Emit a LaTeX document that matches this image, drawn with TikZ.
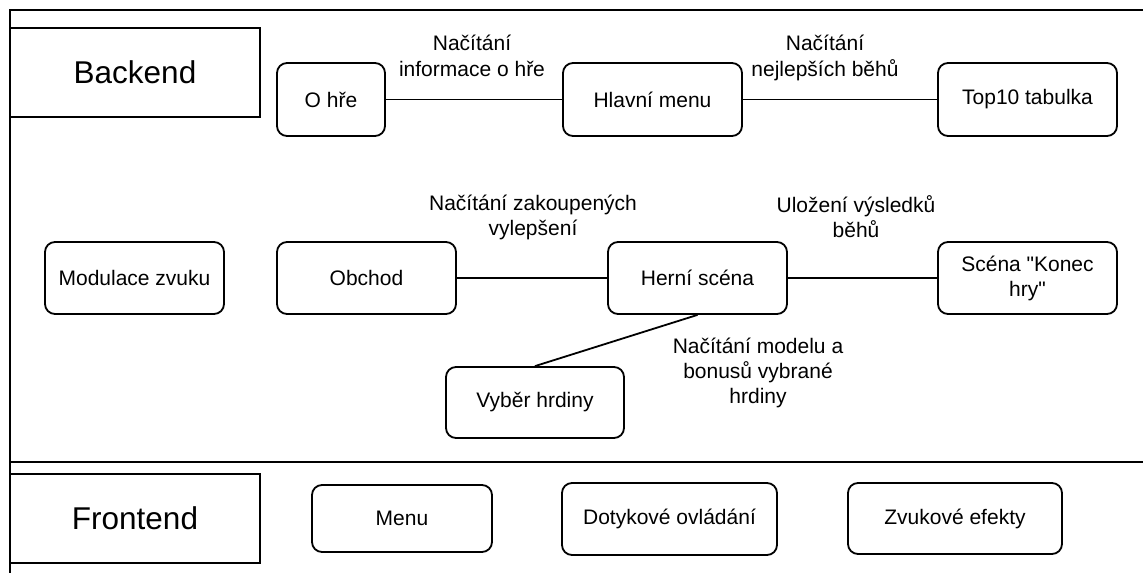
\documentclass[tikz,border=0pt]{standalone}
\usepackage{fontspec}
\setmainfont{Liberation Sans}[Ligatures=TeXOff]
\begin{document}
\begin{tikzpicture}[x=1pt,y=-1pt,
  box/.style={draw, line width=1.8pt, rounded corners=10pt, font=\fontsize{21}{25}\selectfont, align=center, inner sep=0pt},
  headbox/.style={draw, line width=1.8pt, font=\fontsize{31.5}{36}\selectfont, inner sep=0pt, minimum width=250pt, minimum height=89pt},
  conn/.style={line width=1.8pt},
  lab/.style={font=\fontsize{21}{25}\selectfont, anchor=base, inner sep=0pt},
  frameline/.style={line width=1.8pt}]
\useasboundingbox (0,0) rectangle (1143,573);
% frame
\coordinate (ftr) at (1143,10);
\coordinate (ftl) at (10,10);
\coordinate (fbl) at (10,573);
\coordinate (ml) at (10,462);
\coordinate (mr) at (1143,462);
\draw[frameline] (ftr) -- (ftl) -- (fbl);
\draw[frameline] (ml) -- (mr);
% headings
\node[headbox] (back) at (135,72.5) {Backend};
\node[headbox] (front) at (135,518.5) {Frontend};
% backend row 1
\node[box, minimum width=108pt, minimum height=73pt] (ohre) at (331,99.5) {O hře};
\node[box, minimum width=179pt, minimum height=73pt] (hlavni) at (652.5,99.5) {Hlavní menu};
\node[box, minimum width=179pt, minimum height=73pt] (top10) at (1027.5,99.5) {Top10 tabulka};
% backend row 2
\node[box, minimum width=179pt, minimum height=72pt] (modul) at (134.5,278) {Modulace zvuku};
\node[box, minimum width=179pt, minimum height=72pt] (obchod) at (366.5,278) {Obchod};
\node[box, minimum width=179pt, minimum height=72pt] (herni) at (697.5,278) {Herní scéna};
\node[box, minimum width=179pt, minimum height=72pt] (konec) at (1027.5,278) {Scéna "Konec\\hry"};
\node[box, minimum width=178pt, minimum height=71pt] (vyber) at (535,402.5) {Vyběr hrdiny};
% frontend
\node[box, minimum width=180pt, minimum height=67pt] (menu) at (402,518.5) {Menu};
\node[box, minimum width=215pt, minimum height=72pt] (dotyk) at (669.5,519) {Dotykové ovládání};
\node[box, minimum width=214pt, minimum height=71pt] (zvuk) at (955,518.5) {Zvukové efekty};
% connectors
\draw[conn] (ohre) -- (hlavni);
\draw[conn] (hlavni) -- (top10);
\draw[conn] (obchod) -- (herni);
\draw[conn] (herni) -- (konec);
\draw[conn] (herni.south) -- (vyber.north);
% labels
\node[lab] (la1) at (472,50) {Načítání};
\node[lab] (la2) at (472,76) {informace o hře};
\node[lab] (lb1) at (825,50) {Načítání};
\node[lab] (lb2) at (825,76) {nejlepších běhů};
\node[lab] (lc1) at (533,210) {Načítání zakoupených};
\node[lab] (lc2) at (533,235) {vylepšení};
\node[lab] (ld1) at (856,212) {Uložení výsledků};
\node[lab] (ld2) at (856,237) {běhů};
\node[lab] (le1) at (758,353) {Načítání modelu a};
\node[lab] (le2) at (758,378) {bonusů vybrané};
\node[lab] (le3) at (758,403) {hrdiny};
\end{tikzpicture}
\end{document}
